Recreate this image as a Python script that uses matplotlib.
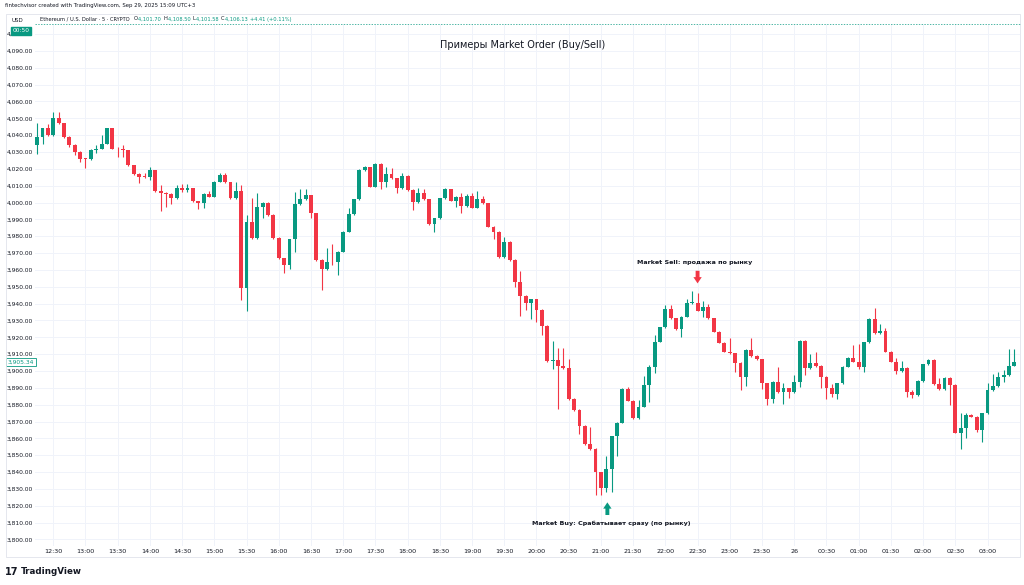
import matplotlib
matplotlib.use("Agg")
import matplotlib.pyplot as plt
from matplotlib.patches import Rectangle

# 5-minute ETH/USD candles, 12:15 -> 03:25
opens = [4034.1, 4039.1, 4044, 4040, 4050, 4047, 4039, 4034, 4030, 4026,
         4025.8, 4031, 4032, 4035, 4044, 4032, 4031.5, 4031, 4022, 4017,
         4015.4, 4015, 4019.3, 4007, 4005.8, 4005.3, 4002.8, 4008.4, 4007.4, 4008.4,
         4000.9, 3999.5, 4005.2, 4003.5, 4012.4, 4016.3, 4012, 4002.5, 4006.8, 3949.4,
         3988.2, 3978.7, 3997.5, 4000, 3992.6, 3979.1, 3966.8, 3962.9, 3978.1, 3999.1,
         4001.9, 4004.3, 3993.6, 3965.9, 3960.5, 3964.9, 3964.5, 3970.8, 3982.7, 3993.2,
         4001.9, 4019.3, 4020.9, 4009.4, 4022.9, 4012.4, 4016.9, 4014.4, 4008.4, 4015.8,
         4007.4, 4000.1, 4005.5, 4001.9, 3987.2, 3990.6, 4002.5, 4007.8, 4001.1, 4003.5,
         3997.9, 4003.9, 3996.9, 4001.9, 3999.5, 3985.7, 3982.7, 3967.4, 3976.7, 3965.9,
         3953, 3944.7, 3940.5, 3942.5, 3936.2, 3926.7, 3905.9, 3906.5, 3902.9, 3901.5,
         3883.3, 3876.8, 3867.5, 3856.4, 3853.6, 3839.8, 3830.8, 3841.7, 3861.3, 3869.3,
         3889.6, 3882.3, 3871.8, 3878.8, 3891.6, 3902.5, 3917.4, 3925.9, 3936.6, 3931.2,
         3924.7, 3932.2, 3940.5, 3940.6, 3935.8, 3937.8, 3931.2, 3923.3, 3916.8, 3911.4,
         3910.4, 3904.9, 3896.6, 3912.4, 3908.9, 3906.9, 3892.6, 3883.3, 3893.6, 3887.3,
         3889.7, 3887.3, 3893.2, 3917.8, 3901.5, 3904.5, 3902.9, 3896.6, 3889.7, 3886.3,
         3892.6, 3902.5, 3907.5, 3905.5, 3902.1, 3917, 3930.9, 3922.3, 3923.7, 3911.4,
         3905.5, 3900, 3902, 3887.3, 3885.7, 3894, 3903.9, 3906.5, 3892, 3889.3,
         3896, 3891.6, 3863.3, 3865.9, 3873.8, 3872.8, 3864.9, 3874.8, 3888.7, 3891,
         3896.6, 3897.6, 3903.1]
closes = [4039.1, 4044, 4040, 4050, 4047, 4039, 4034, 4030, 4026, 4025.8,
          4031, 4032, 4035, 4044, 4032, 4031.5, 4031, 4022, 4017, 4015.4,
          4015, 4019.3, 4007, 4005.8, 4005.3, 4002.8, 4008.4, 4007.4, 4008.4, 4000.9,
          3999.5, 4005.2, 4003.5, 4012.4, 4016.3, 4012, 4002.5, 4006.8, 3949.4, 3988.2,
          3978.7, 3997.5, 4000, 3992.6, 3979.1, 3966.8, 3962.9, 3978.1, 3999.1, 4001.9,
          4004.3, 3993.6, 3965.9, 3960.5, 3964.9, 3964.5, 3970.8, 3982.7, 3993.2, 4001.9,
          4019.3, 4020.9, 4009.4, 4022.9, 4012.4, 4016.9, 4014.4, 4008.4, 4015.8, 4007.4,
          4000.1, 4005.5, 4001.9, 3987.2, 3990.6, 4002.5, 4007.8, 4001.1, 4003.5, 3997.9,
          4003.9, 3996.9, 4001.9, 3999.5, 3985.7, 3982.7, 3967.4, 3976.7, 3965.9, 3953,
          3944.7, 3940.5, 3942.5, 3936.2, 3926.7, 3905.9, 3906.5, 3902.9, 3901.5, 3883.3,
          3876.8, 3867.5, 3856.4, 3853.6, 3839.8, 3830.8, 3841.7, 3861.3, 3869.3, 3889.6,
          3882.3, 3871.8, 3878.8, 3891.6, 3902.5, 3917.4, 3925.9, 3936.6, 3931.2, 3924.7,
          3932.2, 3940.5, 3940.6, 3935.8, 3937.8, 3931.2, 3923.3, 3916.8, 3911.4, 3910.4,
          3904.9, 3896.6, 3912.4, 3908.9, 3906.9, 3892.6, 3883.3, 3893.6, 3887.3, 3889.7,
          3887.3, 3893.2, 3917.8, 3901.5, 3904.5, 3902.9, 3896.6, 3889.7, 3886.3, 3892.6,
          3902.5, 3907.5, 3905.5, 3902.1, 3917, 3930.9, 3922.3, 3923.7, 3911.4, 3905.5,
          3900, 3902, 3887.3, 3885.7, 3894, 3903.9, 3906.5, 3892, 3889.3, 3896,
          3891.6, 3863.3, 3865.9, 3873.8, 3872.8, 3864.9, 3874.8, 3888.7, 3891, 3896.6,
          3897.6, 3903.1, 3905.3]
highs = [4047, 4044.5, 4046.4, 4053.5, 4053.5, 4047.5, 4039.5, 4034.5, 4030.5, 4026.5,
         4031.5, 4034, 4040, 4044.5, 4044.3, 4033, 4034.2, 4031.3, 4022.3, 4017.3,
         4017.3, 4021.2, 4019.5, 4010.3, 4006.5, 4005.6, 4010.4, 4010.8, 4010.8, 4008.8,
         4001.2, 4005.8, 4006.8, 4012.8, 4017.3, 4017.3, 4012.4, 4012, 4010.4, 3992.6,
         4002.5, 4005.4, 4000.5, 4000.4, 3993, 3979.5, 3967.2, 3978.5, 4006.5, 4007.8,
         4007.8, 4004.6, 3994, 3966.2, 3972.8, 3975.4, 3971.2, 3983.1, 3996.6, 4002.3,
         4019.7, 4021.7, 4021.3, 4023.3, 4023.3, 4021.3, 4020.3, 4014.8, 4017.7, 4016.4,
         4007.8, 4008.4, 4007.8, 4002.3, 3991, 4002.9, 4008.4, 4008.2, 4003.9, 4005.9,
         4005.1, 4005.5, 4007, 4003.9, 3999.9, 3986.1, 3983.1, 3979.3, 3977.1, 3966.3,
         3959.5, 3945.1, 3943, 3942.9, 3936.6, 3927.1, 3918, 3913.4, 3913.4, 3906.9,
         3883.7, 3877.2, 3867.9, 3866.5, 3854, 3840.2, 3849.6, 3861.7, 3869.7, 3890,
         3890.6, 3882.7, 3882.7, 3897.2, 3903.5, 3921.3, 3926.3, 3939.2, 3939.2, 3931.6,
         3932.6, 3942.5, 3947.7, 3946.1, 3941.7, 3939.7, 3931.6, 3923.7, 3917.2, 3919.3,
         3910.8, 3905.3, 3912.8, 3919.3, 3909.3, 3907.3, 3893, 3894, 3902.5, 3892.6,
         3890.1, 3897.6, 3918.2, 3918.2, 3909.9, 3911, 3903.3, 3897, 3892.1, 3893,
         3902.9, 3908.5, 3915.4, 3915.8, 3917.4, 3931.3, 3937.6, 3927.7, 3925.7, 3911.8,
         3907.5, 3905.9, 3902.4, 3888.7, 3894.4, 3904.3, 3906.9, 3906.9, 3895.6, 3896.6,
         3896.4, 3892, 3874.8, 3874.8, 3874.2, 3873.2, 3875.2, 3892.6, 3898, 3899.2,
         3900.6, 3913, 3913]
lows = [4029, 4035, 4039.5, 4039.8, 4046.5, 4038.5, 4033, 4028.2, 4024, 4020.7,
        4025.3, 4029.2, 4031.5, 4034.5, 4031.5, 4027.2, 4027.2, 4021.5, 4016.5, 4011.4,
        4014.5, 4013.5, 4006.5, 3995, 3997.5, 3998.9, 4002.3, 4006.5, 4006.5, 4000.4,
        3996.2, 3997, 4003, 4003, 4012, 4011.5, 4002, 4002, 3942, 3935.5,
        3978.2, 3978.2, 3991, 3992, 3978.6, 3966.3, 3958, 3960.3, 3970.8, 3998.6,
        4001.5, 3990.6, 3965.4, 3948, 3960, 3962.9, 3956.9, 3970.4, 3982.3, 3992.8,
        4001.5, 4018.9, 4009, 4009, 4007.8, 4009.4, 4014, 4005.9, 4008, 4007,
        3995.6, 3999.7, 4001.5, 3986.8, 3982.7, 3990.2, 4002.1, 4000.7, 3997.5, 3993.6,
        3997.5, 3996.5, 3996.5, 3999.1, 3985.3, 3978.1, 3967, 3967, 3965.5, 3950,
        3932.8, 3936, 3930.6, 3929.2, 3921.3, 3905.5, 3901, 3877.2, 3901.1, 3882.9,
        3876.4, 3862.5, 3856, 3853.2, 3826.3, 3826.3, 3828.3, 3828.3, 3849.6, 3868.9,
        3881.9, 3871.4, 3871.4, 3878.4, 3881.7, 3899, 3917, 3925.5, 3930.8, 3924.3,
        3920.3, 3931.8, 3939.5, 3935.4, 3932.2, 3930.8, 3922.9, 3916.4, 3911, 3910,
        3899.5, 3889, 3891, 3908.5, 3906.5, 3889.6, 3879.8, 3880.8, 3886.9, 3880.2,
        3883.7, 3886.9, 3890.6, 3897.6, 3901.1, 3902.5, 3890, 3883.3, 3884.7, 3883.3,
        3892.2, 3902.1, 3905.1, 3901.1, 3899.2, 3916.6, 3921.9, 3921.9, 3911, 3905.1,
        3898, 3899.6, 3884.7, 3884.1, 3885.3, 3893.6, 3903.5, 3891.6, 3888.9, 3888.9,
        3879.8, 3862.9, 3853.6, 3860, 3872.4, 3863.9, 3858, 3874.4, 3888.3, 3890.6,
        3893.2, 3897.2, 3902.7]

time_labels = ["12:30", "13:00", "13:30", "14:00", "14:30", "15:00", "15:30", "16:00",
               "16:30", "17:00", "17:30", "18:00", "18:30", "19:00", "19:30", "20:00",
               "20:30", "21:00", "21:30", "22:00", "22:30", "23:00", "23:30", "26",
               "00:30", "01:00", "01:30", "02:00", "02:30", "03:00"]
price_levels = list(range(3800, 4101, 10))
last_price = 3905.34

GREEN = "#089981"
RED = "#F23645"
GRID = "#f0f3fa"
TXT = "#131722"

fig = plt.figure(figsize=(10.24, 5.85), dpi=100)
W, H = 1024, 585
ax = fig.add_axes([35 / W, 1 - 546 / H, 985 / W, 522 / H])

for i, (o, hi, lo, c) in enumerate(zip(opens, highs, lows, closes)):
    col = GREEN if c >= o else RED
    ax.vlines(i, lo, hi, color=col, lw=0.8, zorder=2)
    body = max(abs(c - o), 0.5)
    ax.add_patch(Rectangle((i - 0.36, min(o, c)), 0.72, body, facecolor=col,
                           edgecolor="none", zorder=3))

ax.set_xlim(-0.4, 183.05)
ax.set_ylim(3796.1, 4106.0)

ticks_x = [3 + 6 * k for k in range(len(time_labels))]
ax.set_xticks(ticks_x)
ax.set_xticklabels(time_labels, fontsize=4.6, color=TXT)
ax.set_yticks(price_levels)
ax.set_yticklabels([f"{v:,.2f}" for v in price_levels], fontsize=4.3, color=TXT)
ax.tick_params(axis="x", length=0, pad=2.5)
ax.tick_params(axis="y", length=0, pad=1.5)
ax.grid(True, color=GRID, lw=0.7, zorder=0)
for s in ax.spines.values():
    s.set_visible(False)

# current price label
ax.text(-0.001, last_price, f"{last_price:,.2f}", fontsize=4.3, color=GREEN, ha="right",
        va="center", transform=ax.get_yaxis_transform(),
        bbox=dict(boxstyle="square,pad=0.25", fc="white", ec=GREEN, lw=0.6), zorder=5)

# annotations
ax.text(90.5, 4093.6, "Примеры Market Order (Buy/Sell)", fontsize=7.0,
        color=TXT, ha="center", va="center")
ax.text(122.4, 3964.7, "Market Sell: продажа по рынку", fontsize=4.6, weight="bold",
        color=TXT, ha="center", va="center")
arrow = "simple,head_width=0.6,head_length=0.45,tail_width=0.28"
ax.annotate("", xy=(123.0, 3952.0), xytext=(123.0, 3959.5),
            arrowprops=dict(arrowstyle=arrow, fc=RED, ec=RED, lw=0, shrinkA=0, shrinkB=0))
ax.annotate("", xy=(106.2, 3822.0), xytext=(106.2, 3814.5),
            arrowprops=dict(arrowstyle=arrow, fc=GREEN, ec=GREEN, lw=0, shrinkA=0, shrinkB=0))
ax.text(106.9, 3809.7, "Market Buy: Срабатывает сразу (по рынку)", fontsize=4.6,
        weight="bold", color=TXT, ha="center", va="center")

# frame and header
fig.add_artist(Rectangle((6 / W, 1 - 557 / H), 1014 / W, 543 / H, transform=fig.transFigure,
                         fill=False, ec="#e0e3eb", lw=0.6))
fig.add_artist(plt.Line2D([35 / W, 1020 / W], [1 - 24 / H] * 2, transform=fig.transFigure,
                          color=GREEN, lw=0.5, ls=(0, (2, 2))))
fig.text(5 / W, 1 - 6 / H, "fintechvisor created with TradingView.com, Sep 29, 2025 15:09 UTC+3",
         fontsize=3.9, color=TXT, va="center")
fig.text(11 / W, 1 - 20 / H, "USD", fontsize=4.0, color=TXT, va="center")

renderer = fig.canvas.get_renderer()
parts = [("Ethereum / U.S. Dollar · 5 · CRYPTO  ", TXT), ("O", TXT), ("4,101.70 ", GREEN),
         ("H", TXT), ("4,108.50 ", GREEN), ("L", TXT), ("4,101.58 ", GREEN),
         ("C", TXT), ("4,106.13 ", GREEN), ("+4.41 (+0.11%)", GREEN)]
xpos = 40
for s, col in parts:
    t = fig.text(xpos / W, 1 - 19 / H, s, fontsize=3.7, color=col, va="center")
    xpos += t.get_window_extent(renderer).width + 0.6

fig.text(21 / W, 1 - 31 / H, "00:50", fontsize=4.2, color="white", ha="center", va="center",
         bbox=dict(boxstyle="square,pad=0.3", fc=GREEN, ec=GREEN))

# TradingView logo
fig.text(5 / W, 1 - 572 / H, "17", fontsize=7, weight="heavy", color=TXT, va="center")
fig.text(21 / W, 1 - 572 / H, "TradingView", fontsize=6.3, weight="bold", color=TXT, va="center")

fig.savefig("out.png", dpi=100, facecolor="white")
